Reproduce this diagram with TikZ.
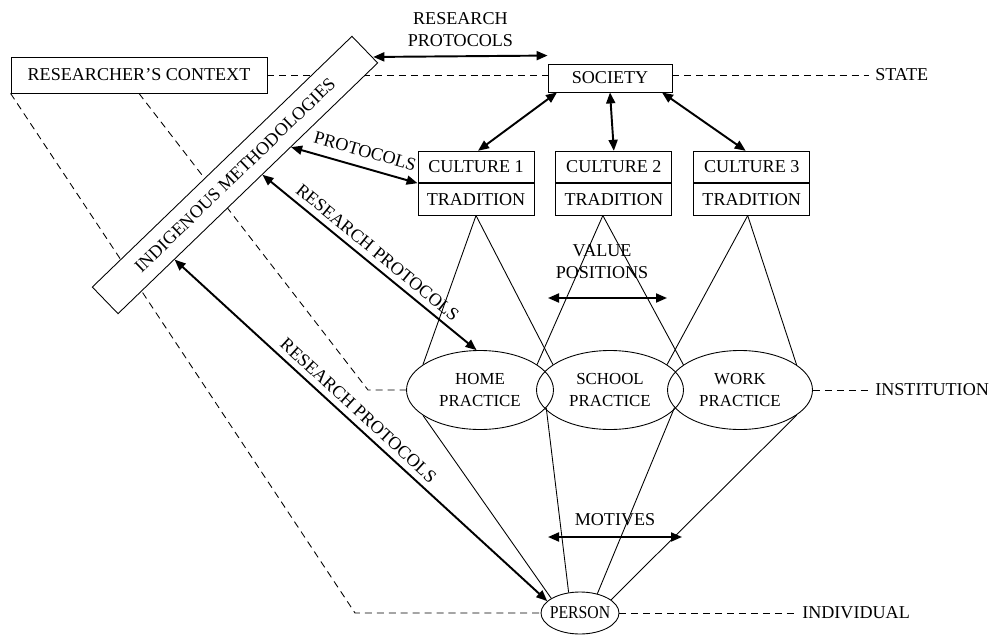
\documentclass[tikz,border=0pt]{standalone}
\usepackage{fontspec}
\setmainfont{Liberation Serif}
\usetikzlibrary{positioning,shapes.geometric,arrows.meta,calc}

\tikzset{
  box/.style={draw, rectangle, inner sep=0pt},
  cbox/.style={box, minimum width=2.32cm, minimum height=0.63cm},
  ell/.style={draw, ellipse, inner sep=0pt, align=center, font=\fontsize{9.6}{12.5}\selectfont},
  dashline/.style={dash pattern=on 4pt off 2.8pt},
  twoway/.style={<->, line width=1.1pt},
}

\begin{document}
\begin{tikzpicture}[x=0.02cm, y=-0.02cm, line width=0.5pt,
    font=\fontsize{10.3}{12.5}\selectfont,
    >={Triangle[length=2.2mm,width=1.8mm]}]
  \useasboundingbox (0,0) rectangle (993,635);

  % levels
  \node[box, minimum width=5.12cm, minimum height=0.72cm] (ctx) at (139,75) {RESEARCHER'S CONTEXT};
  \node[box, minimum width=2.48cm, minimum height=0.56cm] (soc) at (610,78) {SOCIETY};
  \node[anchor=west] (state) at (869,75) {STATE};
  \node[anchor=west] (inst) at (869,390) {INSTITUTION};
  \node[anchor=west] (indiv) at (796,613) {INDIVIDUAL};

  % cultures
  \node[cbox] (c1) at (476,167) {CULTURE 1};
  \node[cbox, below=0pt of c1] (t1) {TRADITION};
  \node[cbox, right=0.42cm of c1] (c2) {CULTURE 2};
  \node[cbox, below=0pt of c2] (t2) {TRADITION};
  \node[cbox, right=0.42cm of c2] (c3) {CULTURE 3};
  \node[cbox, below=0pt of c3] (t3) {TRADITION};
  \coordinate (a1) at (t1.south);
  \coordinate (a2) at ([xshift=-0.22cm]t2.south);
  \coordinate (a3) at ([xshift=-0.08cm]t3.south);

  % practices
  \node[ell, minimum width=2.94cm, minimum height=1.58cm] (home) at (480,390) {HOME\\PRACTICE};
  \node[ell, minimum width=2.94cm, minimum height=1.58cm] (school) at (610,390) {SCHOOL\\PRACTICE};
  \node[ell, minimum width=2.9cm, minimum height=1.58cm] (work) at (740,390) {WORK\\PRACTICE};
  \node[ell, minimum width=1.56cm, minimum height=0.84cm,
    label={center:\scalebox{0.87}[1]{PERSON}}] (person) at (580,613) {};

  \draw (a1) -- (home.156);
  \draw (a1) -- (school.156);
  \draw (a2) -- (home.24);
  \draw (a2) -- (work.156);
  \draw (a3) -- (school.24);
  \draw (a3) -- (work.24);

  \draw (home.204) -- (person.153);
  \draw (home.-15) -- (person.119);
  \draw (work.195) -- (person.48);
  \draw (work.-24) -- (person.23);

  % dashed levels
  \coordinate (k1) at (368,390);
  \coordinate (k2) at (355,613);
  \draw[dashline] (ctx.east) -- (ctx.east -| soc.west);
  \draw[dashline] (ctx.east -| soc.east) -- (state);
  \draw[dashline] (work) -- (inst);
  \draw[dashline] (person) -- (indiv);
  \draw[dashline] (ctx.south) -- (k1) -- (home);
  \draw[dashline] (ctx.south west) -- (k2) -- (person);

  \node[box, fill=white, rotate=44, minimum width=7.22cm, minimum height=0.74cm] (im) at (235,175) {INDIGENOUS METHODOLOGIES};

  % protocols
  \draw[twoway] ([xshift=-0.1cm,yshift=0.12cm]im.south east) -- node[above=1.7pt, align=center] {RESEARCH\\PROTOCOLS} ([yshift=0.16cm]soc.north west);
  \draw[twoway] ($(im.south)!0.33!(im.south east)$) -- node[above=2pt, sloped, pos=0.55] {PROTOCOLS} (c1.south west);
  \draw[twoway] ($(im.south)!0.11!(im.south east)$) -- node[above, sloped] {RESEARCH PROTOCOLS} (home.95);
  \draw[twoway] ($(im.south)!0.565!(im.south west)$) -- node[above, sloped, pos=0.47] {RESEARCH PROTOCOLS} (person.160);

  \draw[twoway] ([xshift=-1.06cm]soc.south) -- ([xshift=0.04cm]c1.north);
  \draw[twoway] (soc.south) -- (c2.north);
  \draw[twoway] ([xshift=1.04cm]soc.south) -- ([xshift=-0.12cm]c3.north);

  % values and motives
  \coordinate (vp1) at (548,298);
  \coordinate (vp2) at (667,298);
  \node[align=center] (vp) at (602,262) {VALUE\\POSITIONS};
  \draw[twoway] (vp1) -- (vp2);
  \coordinate (mv1) at (548,537);
  \coordinate (mv2) at (682,537);
  \node (mv) at (615,520) {MOTIVES};
  \draw[twoway] (mv1) -- (mv2);
\end{tikzpicture}
\end{document}
